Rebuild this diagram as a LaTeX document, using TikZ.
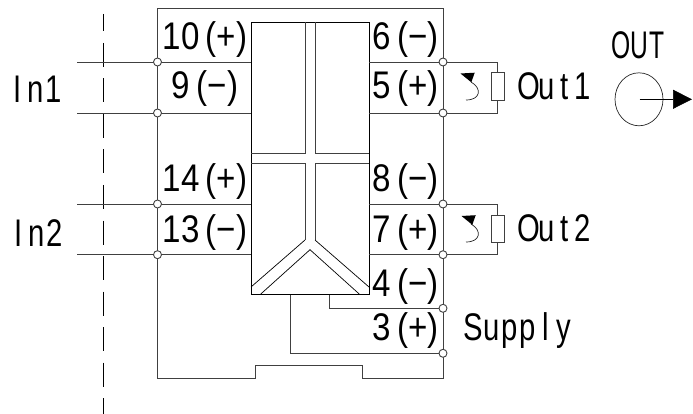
\documentclass[tikz,border=0pt]{standalone}
\usepackage{fontspec}
\setmainfont{Liberation Sans}[FakeStretch=0.86]
\newfontfamily\halffont{Liberation Sans}[FakeStretch=0.76]
\newfontfamily\capfont{Liberation Sans}[FakeStretch=0.64]
\usepackage{tikz}
\usetikzlibrary{positioning,arrows.meta,shapes.geometric}
\makeatletter
% half-width letters, one box each
\newcommand{\hwtext}[1]{\@tfor\hwch:=#1\do{\makebox[18pt]{\hwch}}}
\makeatother
\tikzset{
    wire/.style={line width=0.9pt, black!75},
    term/.style={circle, draw=black!75, line width=0.9pt, fill=white, inner sep=0pt, minimum size=8pt},
    pin/.style={inner sep=0pt, font=\fontsize{38.5}{38.5}\selectfont},
    lbl/.style={inner sep=0pt, font=\fontsize{38.5}{38.5}\selectfont\halffont},
    loopmark/.style={line width=0.7pt, black!85}
}
\begin{document}
\begin{tikzpicture}[x=1pt, y=-1pt]
    \useasboundingbox (0,0) rectangle (693,414);

    % Separation line
    \coordinate (S1) at (103.5,14);
    \coordinate (S2) at (103.5,414);
    \draw[line width=0.9pt, dash pattern=on 24pt off 11.5pt, dash phase=6.5pt] (S1) -- (S2);

    % Housing
    \coordinate (H1) at (157.5,8);
    \coordinate (H2) at (443,8);
    \coordinate (H3) at (443,378);
    \coordinate (H4) at (362.7,378);
    \coordinate (H5) at (362.7,365);
    \coordinate (H6) at (255,365);
    \coordinate (H7) at (255,378);
    \coordinate (H8) at (157.5,378);
    \draw[wire] (H1) -- (H2) -- (H3) -- (H4) -- (H5) -- (H6) -- (H7) -- (H8) -- cycle;

    % Block
    \coordinate (B1) at (251,22);
    \coordinate (B2) at (369,22);
    \coordinate (B3) at (369,294.7);
    \coordinate (B4) at (251,294.7);
    \draw[wire, black] (B1) -- (B2) -- (B3) -- (B4) -- cycle;

    % Channels inside the block
    \coordinate (C1) at (305,22);
    \coordinate (C2) at (305,153);
    \coordinate (C3) at (251,153);
    \coordinate (C4) at (315,22);
    \coordinate (C5) at (315,153);
    \coordinate (C6) at (369,153);
    \coordinate (C7) at (251,163.5);
    \coordinate (C8) at (305,163.5);
    \coordinate (C9) at (305,240);
    \coordinate (C10) at (251,287);
    \coordinate (C11) at (369,163.5);
    \coordinate (C12) at (315,163.5);
    \coordinate (C13) at (315,240);
    \coordinate (C14) at (369,287);
    \coordinate (C15) at (260,294.7);
    \coordinate (C16) at (310,249.7);
    \coordinate (C17) at (360,294.7);
    \draw[wire] (C1) -- (C2) -- (C3);
    \draw[wire] (C4) -- (C5) -- (C6);
    \draw[wire] (C7) -- (C8) -- (C9);
    \draw[line width=0.7pt] (C9) -- (C10);
    \draw[wire] (C11) -- (C12) -- (C13);
    \draw[line width=0.7pt] (C13) -- (C14);
    \draw[line width=0.7pt] (C15) -- (C16) -- (C17);

    % Input wires
    \coordinate (W10) at (77,62);
    \coordinate (W9) at (77,113);
    \coordinate (W14) at (77,204);
    \coordinate (W13) at (77,254.7);
    \coordinate (E10) at (251,62);
    \coordinate (E9) at (251,113);
    \coordinate (E14) at (251,204);
    \coordinate (E13) at (251,254.7);
    \draw[wire] (W10) -- (E10);
    \draw[wire] (W9) -- (E9);
    \draw[wire] (W14) -- (E14);
    \draw[wire] (W13) -- (E13);

    % Output wires and loads
    \coordinate (E6) at (369,62);
    \coordinate (E5) at (369,113);
    \coordinate (E8) at (369,204);
    \coordinate (E7) at (369,254.7);
    \coordinate (L1) at (497.7,62);
    \coordinate (L2) at (497.7,113);
    \coordinate (L3) at (497.7,204);
    \coordinate (L4) at (497.7,254.7);
    \node (R1)[rectangle, draw=black!75, line width=0.9pt, inner sep=0pt, minimum width=13.3pt, minimum height=27.6pt] at (497.7,86.5) {};
    \node (R2)[rectangle, draw=black!75, line width=0.9pt, inner sep=0pt, minimum width=13.3pt, minimum height=27.3pt] at (497.7,228.7) {};
    \draw[wire] (E6) -- (L1) -- (R1.north);
    \draw[wire] (E5) -- (L2) -- (R1.south);
    \draw[wire] (E8) -- (L3) -- (R2.north);
    \draw[wire] (E7) -- (L4) -- (R2.south);

    % Supply wires
    \coordinate (P1) at (329.3,294.7);
    \coordinate (P2) at (329.3,308.3);
    \coordinate (P3) at (443,308.3);
    \coordinate (P4) at (290.7,294.7);
    \coordinate (P5) at (290.7,353.3);
    \coordinate (P6) at (443,353.3);
    \draw[wire] (P1) -- (P2) -- (P3);
    \draw[wire] (P4) -- (P5) -- (P6);

    % Terminals
    \foreach \tname/\tx/\ty in {T10/157.5/62, T9/157.5/113, T14/157.5/204, T13/157.5/254.7,
                                T6/443/62, T5/443/113, T8/443/204, T7/443/254.7,
                                T4/443/308.3, T3/443/353.3}
        \node (\tname)[term] at (\tx,\ty) {};

    % Pin labels
    \node (N10)[pin] at (205,40) {10\,(+)};
    \node (N9)[pin] at (205,89) {9\,(−)};
    \node (N14)[pin] at (205,182) {14\,(+)};
    \node (N13)[pin] at (205,233) {13\,(−)};
    \node (N6)[pin] at (405.5,40) {6\,(−)};
    \node (N5)[pin] at (405.5,89) {5\,(+)};
    \node (N8)[pin] at (405.5,182) {8\,(−)};
    \node (N7)[pin] at (405.5,233) {7\,(+)};
    \node (N4)[pin] at (405.5,287) {4\,(−)};
    \node (N3)[pin] at (405.5,331) {3\,(+)};

    % Side labels
    \node (IN1)[lbl] at (35.5,89) {\hwtext{In1}};
    \node (IN2)[lbl] at (37,233) {\hwtext{In2}};
    \node (OUT1)[lbl] at (555.5,86) {\hwtext{Out1}};
    \node (OUT2)[lbl] at (556,228) {\hwtext{Out2}};
    \node (SUP)[lbl] at (518.5,331) {\hwtext{Supply}};
    \node (OUT)[lbl, font=\fontsize{38.5}{38.5}\selectfont\capfont] at (639,45) {\hwtext{OUT}};

    % Current marks
    \coordinate (M1) at (471,82);
    \coordinate (M2) at (466,100);
    \coordinate (M3) at (471,224);
    \coordinate (M4) at (466,242);
    \draw[loopmark] (M1) .. controls (482,88) and (481,100) .. (M2);
    \draw[loopmark] (M3) .. controls (482,230) and (481,242) .. (M4);
    \fill[black] (460.5,73.5) -- (474.7,72.7) -- (471.3,82.3) -- cycle;
    \fill[black] (461.5,216) -- (475.7,215.2) -- (472.3,224.8) -- cycle;

    % Output symbol
    \node (Z)[ellipse, draw=black!85, line width=0.7pt, minimum width=48pt, minimum height=53pt, inner sep=0pt] at (639,99.3) {};
    \coordinate (Z1) at (639.7,99.3);
    \coordinate (Z2) at (692,99.3);
    \draw[line width=0.7pt, -{Triangle[length=19pt, width=19pt]}] (Z1) -- (Z2);
\end{tikzpicture}
\end{document}
